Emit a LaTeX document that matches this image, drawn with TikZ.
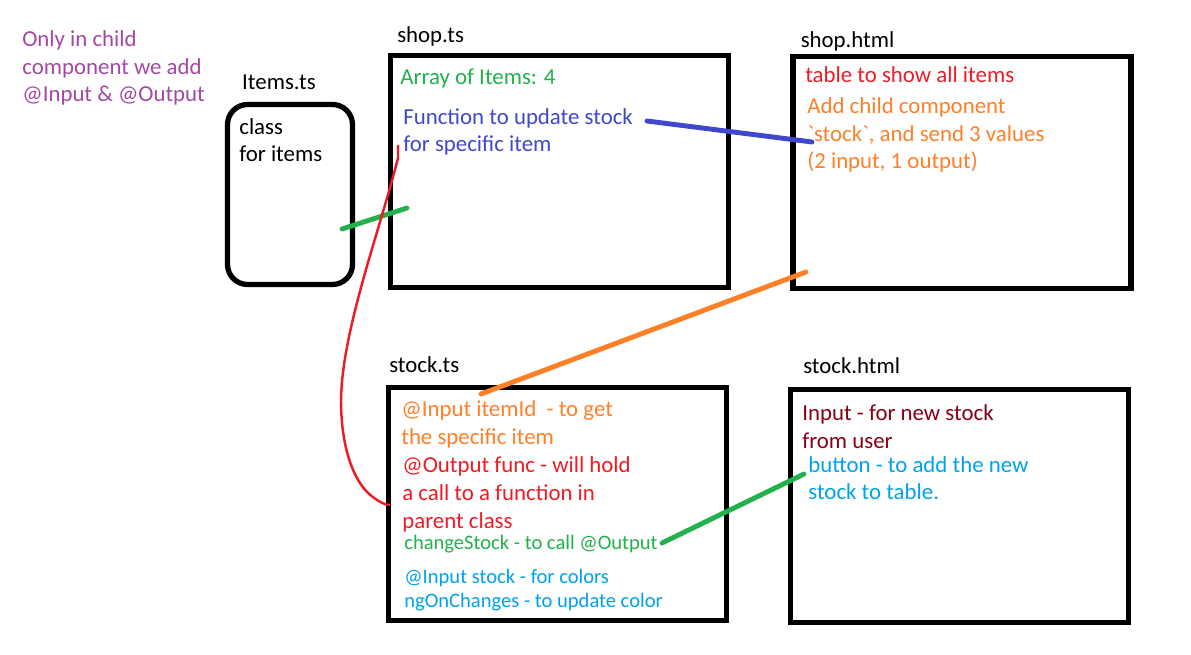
\documentclass[tikz,border=0pt]{standalone}
\usepackage{fontspec}
\setmainfont{Carlito}
\usetikzlibrary{positioning, calc}
\definecolor{paintpurple}{HTML}{A349A4}
\definecolor{paintgreen}{HTML}{22B14C}
\definecolor{paintblue}{HTML}{3F48CC}
\definecolor{paintred}{HTML}{ED1C24}
\definecolor{paintorange}{HTML}{FF7F27}
\definecolor{paintdarkred}{HTML}{880015}
\definecolor{paintsky}{HTML}{00A2E8}

\begin{document}
\begin{tikzpicture}[x=0.02cm, y=-0.02cm,
    box/.style={rectangle, draw=black, line width=3pt, minimum width=6.76cm, minimum height=4.66cm, inner sep=0pt},
    roundbox/.style={box, rounded corners=0.4cm, minimum width=2.5cm, minimum height=3.6cm},
    title/.style={anchor=base west, inner sep=0pt, font=\fontsize{13}{15.9}\selectfont},
    note/.style={anchor=base west, inner sep=0pt, align=left, font=\fontsize{13}{15.9}\selectfont},
    small/.style={note, font=\fontsize{11.7}{13.6}\selectfont},
    link/.style={line width=2.8pt, line cap=round},
]
\useasboundingbox (0,0) rectangle (1191,655);

% Boxes
\node (items) [roundbox] at (290,194.5) {};
\node (shopTs) [box, minimum height=4.64cm] at (559.5,171.5) {};
\node (shopHtml) [box, minimum height=4.64cm] at (962,172.5) {};
\node (stockTs) [box] at (557.5,504) {};
\node (stockHtml) [box] at (959.5,506) {};

% Titles
\node (itemsTitle) [title, above right=0.24cm and 0.34cm of items.north west, anchor=base west] {Items.ts};
\node (shopTsTitle) [title, above right=0.2cm and 0.18cm of shopTs.north west, anchor=base west] {shop.ts};
\node (shopHtmlTitle) [title, above right=0.12cm and 0.2cm of shopHtml.north west, anchor=base west] {shop.html};
\node (stockTsTitle) [title, above right=0.24cm and 0.06cm of stockTs.north west, anchor=base west] {stock.ts};
\node (stockHtmlTitle) [title, above right=0.26cm and 0.3cm of stockHtml.north west, anchor=base west] {stock.html};

% Texts (placed at the baseline of their last line)
\node (hint) [note, text=paintpurple] at (22,102) {Only in child\\component we add\\@Input \& @Output};
\node (itemsText) [note] at (239,162) {class\\for items};
\node (arrayText) [note, text=paintgreen] at (400,85) {Array of Items: 4};
\node (funcText) [note, text=paintblue] at (403,152) {Function to update stock\\for specific item};
\node (tableText) [note, text=paintred] at (805,83) {table to show all items};
\node (childText) [note, text=paintorange] at (807,169) {Add child component\\\textasciigrave stock\textasciigrave, and send 3 values\\(2 input, 1 output)};
\node (itemIdText) [note, text=paintorange] at (401,444) {@Input itemId\ \ - to get\\the specific item};
\node (outputText) [note, text=paintred] at (402,528) {@Output func - will hold\\a call to a function in\\parent class};
\node (changeText) [small, text=paintgreen] at (404,549) {changeStock - to call @Output};
\node (colorText) [small, text=paintsky] at (404,607) {@Input stock - for colors\\ngOnChanges - to update color};
\node (inputText) [note, text=paintdarkred] at (802,448) {Input - for new stock\\from user};
\node (buttonText) [note, text=paintsky] at (808,500) {button - to add the new\\stock to table.};

% Connector ends
\coordinate (itemsEnd) at (342,229);
\coordinate (shopTsEnd) at (407,208);
\coordinate (funcEnd) at (647,121);
\coordinate (childEnd) at (812,142);
\coordinate (shopHtmlEnd) at (806,272);
\coordinate (itemIdEnd) at (481,394);
\coordinate (changeEnd) at (662,543);
\coordinate (buttonEnd) at (804,474);
\coordinate (redTop) at (398,145);
\coordinate (redBottom) at (390,505);

% Connectors
\draw [link, paintgreen] (itemsEnd) -- (shopTsEnd);
\draw [link, paintblue] (funcEnd) -- (childEnd);
\draw [link, paintorange] (shopHtmlEnd) -- (itemIdEnd);
\draw [link, paintgreen] (changeEnd) -- (buttonEnd);
\draw [paintred, line width=1.4pt] (redTop) -- (398,158)
  .. controls (380,230) and (342,330) .. (341,400)
  .. controls (341,440) and (350,475) .. (368,493)
  .. controls (376,500) and (384,505) .. (redBottom);

\end{tikzpicture}
\end{document}
